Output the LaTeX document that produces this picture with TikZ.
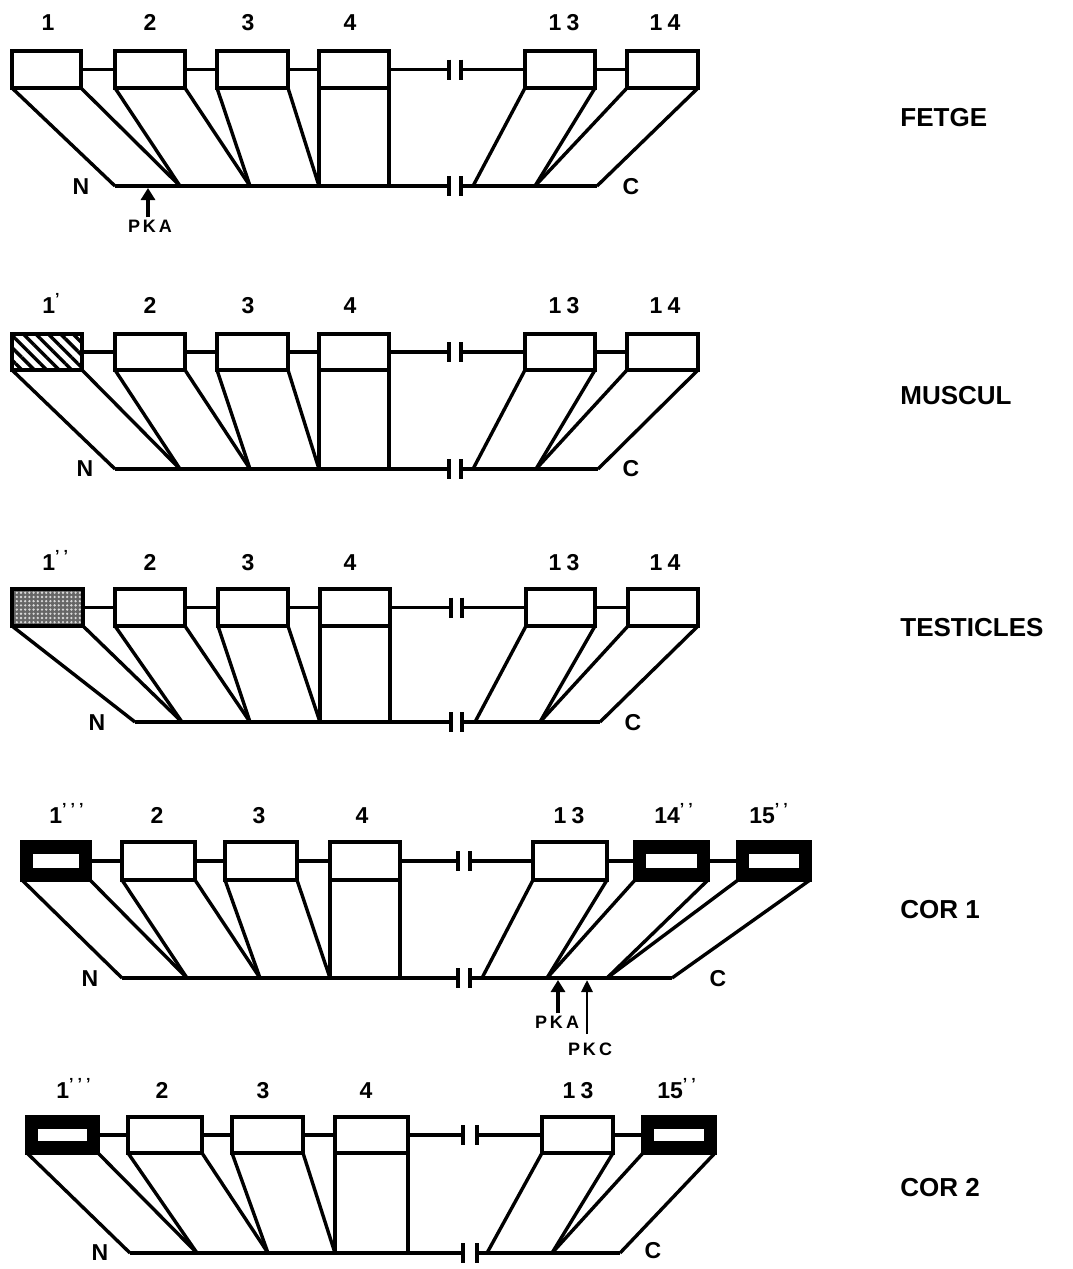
\documentclass[tikz,border=0pt]{standalone}
\usepackage{fontspec}
\setmainfont{Liberation Sans}
\usetikzlibrary{arrows.meta,patterns.meta}
\tikzset{
  exonbox/.style={draw=black, line width=2.2pt, fill=white, rectangle, inner sep=0pt, outer sep=0pt},
  hatchbox/.style={exonbox, preaction={fill=white}, pattern={Lines[angle=-45,distance=4.4pt,line width=1.7pt]}},
  dotbox/.style={exonbox, preaction={fill=black!60}, pattern={Dots[radius=0.65pt,distance=2.1pt]}, pattern color=white!85!black},
  corbox/.style={exonbox, fill=black, path picture={\fill[white] ([xshift=5.5pt,yshift=6pt]path picture bounding box.south west) rectangle ([xshift=-5.5pt,yshift=-6pt]path picture bounding box.north east);}},
  conn/.style={line width=1.9pt},
  slant/.style={line width=1.7pt},
  brk/.style={line width=2.2pt},
  lab/.style={font=\bfseries\fontsize{11.5}{12}\selectfont, inner sep=0pt, text height=8.2pt, text depth=0pt},
  tislab/.style={font=\bfseries\fontsize{13}{14}\selectfont, anchor=west, inner sep=0pt},
  pklab/.style={font=\bfseries\fontsize{9}{10}\selectfont, inner sep=0pt},
  pkarrow/.style={line width=1.6pt, shorten <=1pt, -{Triangle[width=7pt,length=6pt]}},
}
\newcommand\exon[6][]{%
  \pgfmathsetmacro\exw{(#4-#3)*0.5}\pgfmathsetmacro\exh{(#6-#5)*0.5}%
  \node[exonbox,minimum width=\exw pt,minimum height=\exh pt,#1] (#2) at ({(#3+#4)/2},{(#5+#6)/2}) {};}
\newcommand\legs[3]{\draw[slant] (#1.south west) -- (#2); \draw[slant] (#1.south east) -- (#3);}
\newcommand\brktick[1]{\draw[brk] ([yshift=5pt]#1) -- ([yshift=-5pt]#1);}
\newcommand\dgsp{\hspace{2.6pt}}
\newcommand\primes[1]{\textsuperscript{#1}}
\begin{document}
\begin{tikzpicture}[x=0.5pt,y=-0.5pt]
\useasboundingbox[fill=white] (0,0) rectangle (1072,1269);

% ================= Panel 1: FETGE =================
\node[lab] (la1) at (48,22) {1};
\node[lab] (la2) at (150,22) {2};
\node[lab] (la3) at (248,22) {3};
\node[lab] (la4) at (350,22) {4};
\node[lab] (la13) at (564,22) {1\dgsp3};
\node[lab] (la14) at (665,22) {1\dgsp4};
\exon{a1}{12}{81}{51}{88}
\exon{a2}{115}{185}{51}{88}
\exon{a3}{217}{288}{51}{88}
\exon{a4}{319}{389}{51}{88}
\exon{a13}{525}{595}{51}{88}
\exon{a14}{627}{698}{51}{88}
\coordinate (abt1) at (449,69.5); \coordinate (abt2) at (461,69.5);
\draw[conn] (a1.east) -- (a2.west);
\draw[conn] (a2.east) -- (a3.west);
\draw[conn] (a3.east) -- (a4.west);
\draw[conn] (a4.east) -- (abt1);
\draw[conn] (abt2) -- (a13.west);
\draw[conn] (a13.east) -- (a14.west);
\brktick{abt1}\brktick{abt2}
\coordinate (ab0) at (115,186); \coordinate (ab1) at (180,186);
\coordinate (ab2) at (250,186); \coordinate (ab3) at (319,186);
\coordinate (ab4) at (389,186); \coordinate (abk1) at (449,186);
\coordinate (abk2) at (461,186); \coordinate (ab5) at (473,186);
\coordinate (ab6) at (535,186); \coordinate (ab7) at (597,186);
\draw[conn] (ab0) -- (abk1);
\draw[conn] (abk2) -- (ab7);
\brktick{abk1}\brktick{abk2}
\legs{a1}{ab0}{ab1}\legs{a2}{ab1}{ab2}\legs{a3}{ab2}{ab3}\legs{a4}{ab3}{ab4}
\legs{a13}{ab5}{ab6}\legs{a14}{ab6}{ab7}
\node[lab] (aN) at (81,186) {N};
\node[lab] (aC) at (631,186) {C};
\node[pklab] (apka) at (150,226) {P\,K\,A};
\coordinate (apkat) at (148,188);
\draw[pkarrow] (apka.north -| apkat) -- (apkat);
\node[tislab] (aname) at (900,118) {FETGE};

% ================= Panel 2: MUSCUL =================
\node[lab, anchor=west] (lb1) at (42,305) {1\primes{'}};
\node[lab] (lb2) at (150,305) {2};
\node[lab] (lb3) at (248,305) {3};
\node[lab] (lb4) at (350,305) {4};
\node[lab] (lb13) at (564,305) {1\dgsp3};
\node[lab] (lb14) at (665,305) {1\dgsp4};
\exon[hatchbox]{b1}{12}{82}{334}{370}
\exon{b2}{115}{185}{334}{370}
\exon{b3}{217}{288}{334}{370}
\exon{b4}{319}{389}{334}{370}
\exon{b13}{525}{595}{334}{370}
\exon{b14}{627}{698}{334}{370}
\coordinate (bbt1) at (449,352); \coordinate (bbt2) at (461,352);
\draw[conn] (b1.east) -- (b2.west);
\draw[conn] (b2.east) -- (b3.west);
\draw[conn] (b3.east) -- (b4.west);
\draw[conn] (b4.east) -- (bbt1);
\draw[conn] (bbt2) -- (b13.west);
\draw[conn] (b13.east) -- (b14.west);
\brktick{bbt1}\brktick{bbt2}
\coordinate (bb0) at (115,469); \coordinate (bb1) at (180,469);
\coordinate (bb2) at (250,469); \coordinate (bb3) at (319,469);
\coordinate (bb4) at (389,469); \coordinate (bbk1) at (449,469);
\coordinate (bbk2) at (461,469); \coordinate (bb5) at (473,469);
\coordinate (bb6) at (536,469); \coordinate (bb7) at (598,469);
\draw[conn] (bb0) -- (bbk1);
\draw[conn] (bbk2) -- (bb7);
\brktick{bbk1}\brktick{bbk2}
\legs{b1}{bb0}{bb1}\legs{b2}{bb1}{bb2}\legs{b3}{bb2}{bb3}\legs{b4}{bb3}{bb4}
\legs{b13}{bb5}{bb6}\legs{b14}{bb6}{bb7}
\node[lab] (bN) at (85,468) {N};
\node[lab] (bC) at (631,468) {C};
\node[tislab] (bname) at (900,396) {MUSCUL};

% ================= Panel 3: TESTICLES =================
\node[lab, anchor=west] (lc1) at (42,562) {1\primes{'\hspace{2pt}'}};
\node[lab] (lc2) at (150,562) {2};
\node[lab] (lc3) at (248,562) {3};
\node[lab] (lc4) at (350,562) {4};
\node[lab] (lc13) at (564,562) {1\dgsp3};
\node[lab] (lc14) at (665,562) {1\dgsp4};
\exon[dotbox]{c1}{12}{83}{589}{626}
\exon{c2}{115}{185}{589}{626}
\exon{c3}{218}{288}{589}{626}
\exon{c4}{320}{390}{589}{626}
\exon{c13}{526}{595}{589}{626}
\exon{c14}{628}{698}{589}{626}
\coordinate (cbt1) at (451,607.5); \coordinate (cbt2) at (462,607.5);
\draw[conn] (c1.east) -- (c2.west);
\draw[conn] (c2.east) -- (c3.west);
\draw[conn] (c3.east) -- (c4.west);
\draw[conn] (c4.east) -- (cbt1);
\draw[conn] (cbt2) -- (c13.west);
\draw[conn] (c13.east) -- (c14.west);
\brktick{cbt1}\brktick{cbt2}
\coordinate (cb0) at (135,722); \coordinate (cb1) at (182,722);
\coordinate (cb2) at (250,722); \coordinate (cb3) at (320,722);
\coordinate (cb4) at (390,722); \coordinate (cbk1) at (451,722);
\coordinate (cbk2) at (462,722); \coordinate (cb5) at (475,722);
\coordinate (cb6) at (540,722); \coordinate (cb7) at (600,722);
\draw[conn] (cb0) -- (cbk1);
\draw[conn] (cbk2) -- (cb7);
\brktick{cbk1}\brktick{cbk2}
\legs{c1}{cb0}{cb1}\legs{c2}{cb1}{cb2}\legs{c3}{cb2}{cb3}\legs{c4}{cb3}{cb4}
\legs{c13}{cb5}{cb6}\legs{c14}{cb6}{cb7}
\node[lab] (cN) at (97,722) {N};
\node[lab] (cC) at (633,722) {C};
\node[tislab] (cname) at (900,628) {TESTICLES};

% ================= Panel 4: COR 1 =================
\node[lab, anchor=west] (ld1) at (49,815) {1\primes{'\hspace{2pt}'\hspace{2pt}'}};
\node[lab] (ld2) at (157,815) {2};
\node[lab] (ld3) at (259,815) {3};
\node[lab] (ld4) at (362,815) {4};
\node[lab] (ld13) at (569,815) {1\dgsp3};
\node[lab, anchor=west] (ld14) at (654,815) {14\primes{'\hspace{2pt}'}};
\node[lab, anchor=west] (ld15) at (749,815) {15\primes{'\hspace{2pt}'}};
\exon[corbox]{d1}{22}{90}{842}{880}
\exon{d2}{122}{195}{842}{880}
\exon{d3}{225}{297}{842}{880}
\exon{d4}{330}{400}{842}{880}
\exon{d13}{533}{607}{842}{880}
\exon[corbox]{d14}{635}{708}{842}{880}
\exon[corbox]{d15}{738}{810}{842}{880}
\coordinate (dbt1) at (458,861); \coordinate (dbt2) at (470,861);
\draw[conn] (d1.east) -- (d2.west);
\draw[conn] (d2.east) -- (d3.west);
\draw[conn] (d3.east) -- (d4.west);
\draw[conn] (d4.east) -- (dbt1);
\draw[conn] (dbt2) -- (d13.west);
\draw[conn] (d13.east) -- (d14.west);
\draw[conn] (d14.east) -- (d15.west);
\brktick{dbt1}\brktick{dbt2}
\coordinate (db0) at (122,978); \coordinate (db1) at (187,978);
\coordinate (db2) at (260,978); \coordinate (db3) at (330,978);
\coordinate (db4) at (400,978); \coordinate (dbk1) at (458,978);
\coordinate (dbk2) at (470,978); \coordinate (db5) at (482,978);
\coordinate (db6) at (547,978); \coordinate (db7) at (607,978);
\coordinate (db8) at (672,978);
\draw[conn] (db0) -- (dbk1);
\draw[conn] (dbk2) -- (db8);
\brktick{dbk1}\brktick{dbk2}
\legs{d1}{db0}{db1}\legs{d2}{db1}{db2}\legs{d3}{db2}{db3}\legs{d4}{db3}{db4}
\legs{d13}{db5}{db6}\legs{d14}{db6}{db7}\legs{d15}{db7}{db8}
\node[lab] (dN) at (90,978) {N};
\node[lab] (dC) at (718,978) {C};
\node[pklab] (dpka) at (557,1022) {P\,K\,A};
\coordinate (dpkat) at (558,980);
\draw[pkarrow] (dpka.north -| dpkat) -- (dpkat);
\node[pklab] (dpkc) at (590,1049) {P\,K\,C};
\coordinate (dpkct) at (587,980);
\coordinate (dpkcs) at (587,1034);
\draw[line width=1.4pt, -{Triangle[width=5.5pt,length=6pt]}] (dpkcs) -- (dpkct);
\node[tislab] (dname) at (900,910) {COR 1};

% ================= Panel 5: COR 2 =================
\node[lab, anchor=west] (le1) at (56,1090) {1\primes{'\hspace{2pt}'\hspace{2pt}'}};
\node[lab] (le2) at (162,1090) {2};
\node[lab] (le3) at (263,1090) {3};
\node[lab] (le4) at (366,1090) {4};
\node[lab] (le13) at (578,1090) {1\dgsp3};
\node[lab, anchor=west] (le15) at (657,1090) {15\primes{'\hspace{2pt}'}};
\exon[corbox]{e1}{27}{98}{1117}{1153}
\exon{e2}{128}{202}{1117}{1153}
\exon{e3}{232}{303}{1117}{1153}
\exon{e4}{335}{408}{1117}{1153}
\exon{e13}{542}{613}{1117}{1153}
\exon[corbox]{e15}{643}{715}{1117}{1153}
\coordinate (ebt1) at (463,1135); \coordinate (ebt2) at (477,1135);
\draw[conn] (e1.east) -- (e2.west);
\draw[conn] (e2.east) -- (e3.west);
\draw[conn] (e3.east) -- (e4.west);
\draw[conn] (e4.east) -- (ebt1);
\draw[conn] (ebt2) -- (e13.west);
\draw[conn] (e13.east) -- (e15.west);
\brktick{ebt1}\brktick{ebt2}
\coordinate (eb0) at (130,1253); \coordinate (eb1) at (197,1253);
\coordinate (eb2) at (268,1253); \coordinate (eb3) at (335,1253);
\coordinate (eb4) at (408,1253); \coordinate (ebk1) at (463,1253);
\coordinate (ebk2) at (477,1253); \coordinate (eb5) at (487,1253);
\coordinate (eb6) at (552,1253); \coordinate (eb7) at (620,1253);
\draw[conn] (eb0) -- (ebk1);
\draw[conn] (ebk2) -- (eb7);
\brktick{ebk1}\brktick{ebk2}
\legs{e1}{eb0}{eb1}\legs{e2}{eb1}{eb2}\legs{e3}{eb2}{eb3}\legs{e4}{eb3}{eb4}
\legs{e13}{eb5}{eb6}\legs{e15}{eb6}{eb7}
\node[lab] (eN) at (100,1252) {N};
\node[lab] (eC) at (653,1250) {C};
\node[tislab] (ename) at (900,1188) {COR 2};
\end{tikzpicture}
\end{document}
